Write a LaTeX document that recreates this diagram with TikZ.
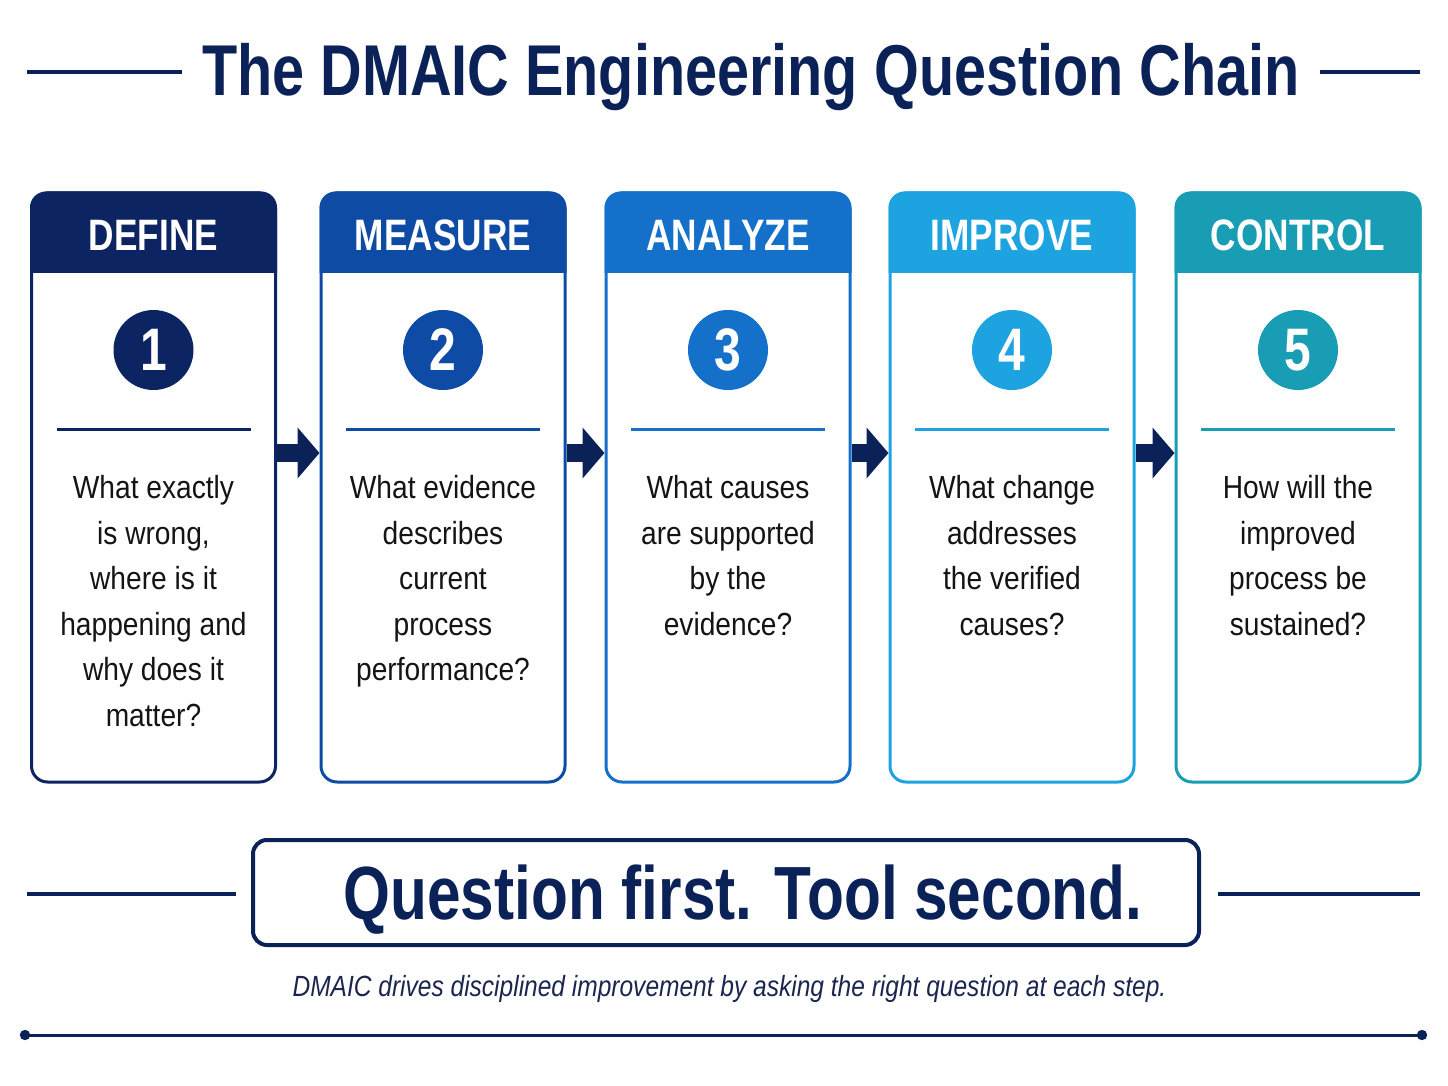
\documentclass[tikz,border=0pt]{standalone}
\usepackage{fontspec}
\setmainfont{Liberation Sans}
\newfontfamily\condfont[FakeStretch=0.8]{Liberation Sans}
\newfontfamily\qfont[FakeStretch=0.88]{Liberation Sans}
\newfontfamily\tagfont[FakeStretch=0.84]{Liberation Sans}
\usetikzlibrary{arrows.meta}
\definecolor{navy}{HTML}{0B2258}
\definecolor{defcol}{HTML}{0C2461}
\definecolor{meacol}{HTML}{0E4BA5}
\definecolor{anacol}{HTML}{1570C9}
\definecolor{impcol}{HTML}{1DA3E0}
\definecolor{concol}{HTML}{189DB4}
\definecolor{qgray}{HTML}{141414}
\definecolor{taggray}{HTML}{1C2550}

\begin{document}
\begin{tikzpicture}[x=0.5pt,y=-0.5pt,
    rule/.style={navy,line width=2pt},
    qbox/.style={rectangle,rounded corners=8pt,line width=1.5pt,fill=white,
      minimum width=122pt,minimum height=294.5pt,inner sep=0pt},
    headtext/.style={anchor=base,text=white,
      font=\condfont\bfseries\fontsize{22pt}{26pt}\selectfont},
    numdisc/.style={circle,minimum size=40pt,inner sep=0pt,text=white,
      font=\condfont\bfseries\fontsize{30pt}{34pt}\selectfont},
    qtext/.style={anchor=north,align=center,inner sep=0pt,text=qgray,
      font=\qfont\fontsize{16pt}{22.8pt}\selectfont},
    stepflow/.style={draw=navy,line width=9pt,-{Triangle[length=11pt,width=25pt]}}]
\useasboundingbox (0,0) rectangle (1448,1086);

% title with side rules
\node[anchor=base,inner xsep=10pt,text=navy,
  font=\condfont\bfseries\fontsize{36pt}{40pt}\selectfont] (title) at (751,96)
  {The DMAIC Engineering Question Chain};
\coordinate (tl) at (27,72);
\coordinate (tr) at (1420,72);
\draw[rule] (tl) -- (title.west |- tl);
\draw[rule] (title.east |- tr) -- (tr);

% the five steps
\coordinate (hb) at (0,273);
\foreach \i/\x/\col/\name/\txt in {
  1/153.5/defcol/DEFINE/{What exactly\\is wrong,\\where is it\\happening and\\why does it\\matter?},
  2/443/meacol/MEASURE/{What evidence\\describes\\current\\process\\performance?},
  3/728/anacol/ANALYZE/{What causes\\are supported\\by the\\evidence?},
  4/1012/impcol/IMPROVE/{What change\\addresses\\the verified\\causes?},
  5/1298/concol/CONTROL/{How will the\\improved\\process be\\sustained?}}{
  \node[qbox,draw=\col] (b\i) at (\x,487.5) {};
  \fill[\col] (b\i.west |- hb) [rounded corners=8pt] -- (b\i.north west)
    -- (b\i.north east) [sharp corners] -- (b\i.east |- hb) -- cycle;
  \node[headtext] (h\i) at (\x,250) {\name};
  \node[numdisc,fill=\col] (n\i) at (\x,350) {\i};
  \draw[\col,line width=1.5pt] (\x-97,429) -- (\x+97,429);
  \node[qtext] (q\i) at (\x,475) {\txt};
}

% arrows between the steps
\coordinate (ay) at (0,453);
\foreach \i/\j in {1/2,2/3,3/4,4/5}
  \draw[stepflow] (b\i.east |- ay) -- (b\j.west |- ay);

% motto box
\node[draw=navy,line width=2pt,rounded corners=7pt,minimum width=473pt,
  minimum height=52.5pt] (mottobox) at (726,892.5) {};
\node[anchor=base,text=navy,
  font=\condfont\bfseries\fontsize{37.7pt}{42pt}\selectfont] (motto) at (743,919)
  {Question first. Tool second.};
\coordinate (ml) at (27,894);
\coordinate (mr) at (1420,894);
\draw[rule] (ml) -- ([xshift=-7.5pt]mottobox.west |- ml);
\draw[rule] ([xshift=8.5pt]mottobox.east |- mr) -- (mr);

% tagline and closing rule
\node[anchor=base,text=taggray,
  font=\tagfont\itshape\fontsize{14.6pt}{17pt}\selectfont] (tagline) at (729.5,996)
  {DMAIC drives disciplined improvement by asking the right question at each step.};
\coordinate (rl) at (25,1035);
\coordinate (rr) at (1422,1035);
\draw[navy,line width=1.5pt] (rl) -- (rr);
\fill[navy] (rl) circle (2.6pt) (rr) circle (2.6pt);
\end{tikzpicture}
\end{document}
